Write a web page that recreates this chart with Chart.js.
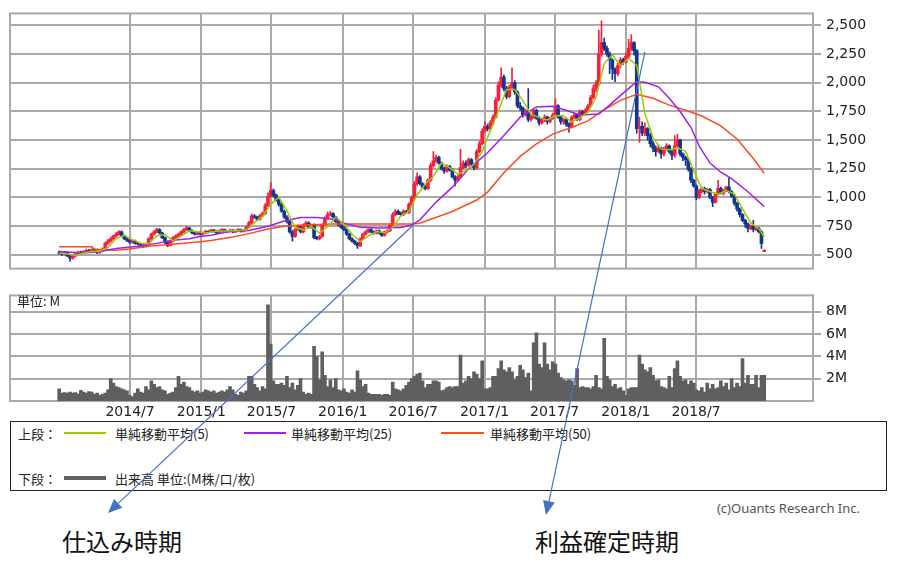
<!DOCTYPE html>
<html lang="ja">
<head>
<meta charset="utf-8">
<script src="https://cdn.jsdelivr.net/npm/chart.js@4.4.1/dist/chart.umd.min.js"></script>
<style>
  body { margin: 0; background: #fff; }
  #page { position: relative; width: 900px; height: 563px; overflow: hidden; font-family: "Noto Sans CJK JP", "Noto Sans", sans-serif; color: #222; }
  #priceChart { position: absolute; left: 0; top: 0; }
  #volumeChart { position: absolute; left: 0; top: 282px; }
  #arrows { position: absolute; left: 0; top: 0; pointer-events: none; z-index: 10; }
  .txt { position: absolute; white-space: nowrap; line-height: 1; }
  .small { font-size: 13px; }
  #legendBox { position: absolute; left: 10px; top: 421px; width: 877px; height: 70px; box-sizing: border-box; border: 1.5px solid #222; }
  .swatch { position: absolute; height: 2px; }
  .big { font-size: 24px; color: #111; }
</style>
</head>
<body>
<div id="page">
  <canvas id="priceChart" width="900" height="282"></canvas>
  <canvas id="volumeChart" width="900" height="139"></canvas>
  <div class="txt small" style="left:17px; top:294px;">単位: M</div>

  <div id="legendBox"></div>
  <div class="txt small" style="left:18px; top:427px;">上段：</div>
  <div class="swatch" style="left:64px; top:432px; width:42px; background:#99cc00;"></div>
  <div class="txt small" style="left:115px; top:427px;">単純移動平均(5)</div>
  <div class="swatch" style="left:244px; top:432px; width:42px; background:#a020f0;"></div>
  <div class="txt small" style="left:291px; top:427px;">単純移動平均(25)</div>
  <div class="swatch" style="left:441px; top:432px; width:43px; background:#ff4a1a;"></div>
  <div class="txt small" style="left:490px; top:427px;">単純移動平均(50)</div>
  <div class="txt small" style="left:18px; top:472px;">下段：</div>
  <div class="swatch" style="left:64px; top:476px; width:42px; height:4px; background:#5f5f5f;"></div>
  <div class="txt small" style="left:115px; top:472px;">出来高 単位:(M株/口/枚)</div>

  <div class="txt small" style="right:40px; top:502px; color:#555; font-family:'Noto Sans',sans-serif;">(c)Ouants Research Inc.</div>
  <div class="txt big" style="left:62px; top:529px;">仕込み時期</div>
  <div class="txt big" style="left:535px; top:529px;">利益確定時期</div>

  <canvas id="arrows" width="900" height="563"></canvas>
</div>

<script>
// weekly candles, first week starts 2013/12/30 (days counted from 2014/1/1)
const firstWeekDay = -2;

const open = [
  520,515,505,520,490,470,490,510,525,515,
  530,540,525,545,530,520,535,550,600,620,
  640,665,680,700,665,640,625,610,620,600,
  595,580,575,590,640,680,700,720,690,650,
  610,580,620,650,665,680,700,720,735,710,
  690,680,695,680,690,705,700,715,705,690,
  710,720,700,705,715,700,710,720,705,715,
  740,780,840,830,810,840,860,930,1010,1060,
  1020,980,940,880,830,790,700,660,720,750,
  700,760,780,740,760,650,640,660,760,820,
  850,860,830,790,760,740,720,680,640,620,
  600,580,640,680,700,720,700,690,710,690,
  670,700,710,760,850,880,860,850,880,870,
  940,1000,1120,1180,1120,1090,1080,1150,1280,1320,
  1350,1300,1250,1230,1270,1240,1180,1150,1180,1260,
  1300,1280,1330,1290,1260,1400,1470,1580,1620,1600,
  1650,1700,1850,1980,2050,1950,1880,1960,2000,1920,
  1800,1780,1720,1750,1680,1700,1760,1690,1650,1680,
  1700,1660,1690,1720,1800,1700,1660,1680,1640,1620,
  1700,1720,1680,1750,1730,1760,1800,1870,1950,1990,
  2250,2350,2300,2250,2200,2120,2080,2150,2200,2180,
  2230,2300,2350,2280,1600,1620,1560,1600,1540,1470,
  1430,1400,1430,1380,1420,1450,1400,1370,1450,1500,
  1380,1350,1330,1250,1150,1100,1000,1060,1080,1050,
  1070,1000,960,1030,1080,1040,1060,1090,1050,1010,
  950,900,850,800,770,730,750,720,730,700,
  530
];
const high = [
  535,522,530,528,498,495,518,532,532,538,
  550,548,555,552,538,542,560,612,635,655,
  672,695,712,710,672,650,632,630,628,610,
  602,590,598,648,690,712,732,728,698,655,
  618,628,660,675,690,710,732,748,740,718,
  698,702,702,698,715,712,725,722,712,718,
  728,725,712,725,720,718,728,725,722,750,
  792,858,852,838,850,875,950,1040,1130,1075,
  1030,990,952,890,842,798,712,728,762,758,
  770,792,788,768,770,662,670,770,832,875,
  880,868,838,798,770,748,728,690,650,628,
  608,648,690,712,730,728,708,718,718,698,
  708,720,772,868,895,892,872,892,890,955,
  1015,1140,1215,1190,1130,1105,1165,1300,1400,1370,
  1360,1310,1265,1285,1280,1250,1190,1195,1420,1320,
  1320,1345,1340,1300,1420,1490,1600,1660,1640,1670,
  1720,1870,2010,2130,2070,1970,1980,2130,2020,1930,
  1830,1790,1770,1950,1720,1775,1770,1705,1690,1720,
  1710,1700,1735,1860,1810,1715,1690,1690,1650,1710,
  1735,1730,1765,1760,1775,1810,1890,1980,2020,2460,
  2540,2390,2320,2270,2210,2130,2170,2220,2215,2260,
  2380,2420,2360,2290,1700,1660,1650,1610,1560,1490,
  1450,1460,1440,1440,1470,1460,1410,1540,1550,1510,
  1390,1360,1340,1260,1160,1110,1070,1090,1090,1080,
  1080,1010,1040,1150,1090,1070,1100,1170,1060,1020,
  960,910,860,810,780,760,800,740,740,710,
  545
];
const low = [
  505,495,498,485,445,462,482,502,508,510,
  522,518,518,522,510,512,528,545,590,610,
  632,655,672,658,632,615,600,602,592,585,
  570,565,568,582,630,672,692,682,640,598,
  572,575,612,642,655,672,692,712,702,682,
  672,672,672,672,682,692,695,698,682,684,
  702,695,692,698,692,694,702,698,698,708,
  732,772,818,800,802,832,852,920,1000,1005,
  968,925,870,818,775,688,620,652,712,690,
  692,748,730,732,638,630,630,652,752,812,
  840,822,782,750,728,710,670,630,610,588,
  555,572,632,672,692,692,680,682,680,660,
  662,692,702,752,840,850,840,842,860,862,
  930,990,1105,1110,1080,1065,1070,1140,1265,1305,
  1290,1240,1210,1220,1230,1170,1100,1140,1170,1250,
  1260,1270,1275,1240,1250,1390,1460,1570,1580,1590,
  1630,1690,1840,1960,1930,1860,1870,1950,1900,1780,
  1760,1700,1710,1660,1665,1690,1680,1630,1640,1660,
  1640,1650,1680,1710,1690,1640,1640,1620,1570,1610,
  1690,1670,1670,1715,1720,1750,1790,1860,1920,1980,
  2230,2280,2230,2080,2030,2010,2060,2130,2160,2170,
  2210,2280,2240,1560,1480,1540,1540,1500,1440,1400,
  1360,1390,1340,1360,1410,1385,1330,1350,1440,1360,
  1320,1280,1230,1130,1090,980,990,1040,1030,1040,
  990,920,950,1020,1030,1020,1050,1040,1000,930,
  880,830,790,740,700,720,700,710,690,555,
  528
];
const close = [
  515,505,520,490,470,490,510,525,515,530,
  540,525,545,530,520,535,550,600,620,640,
  665,680,700,665,640,625,610,620,600,595,
  580,575,590,640,680,700,720,690,650,610,
  580,620,650,665,680,700,720,735,710,690,
  680,695,680,690,705,700,715,705,690,710,
  720,700,705,715,700,710,720,705,715,740,
  780,840,830,810,840,860,930,1010,1060,1020,
  980,940,880,830,790,700,660,720,750,700,
  760,780,740,760,650,640,660,760,820,850,
  860,830,790,760,740,720,680,640,620,600,
  580,640,680,700,720,700,690,710,690,670,
  700,710,760,850,880,860,850,880,870,940,
  1000,1120,1180,1120,1090,1080,1150,1280,1320,1350,
  1300,1250,1230,1270,1240,1180,1150,1180,1260,1300,
  1280,1330,1290,1260,1400,1470,1580,1620,1600,1650,
  1700,1850,1980,2050,1950,1880,1960,2000,1920,1800,
  1780,1720,1750,1680,1700,1760,1690,1650,1680,1700,
  1660,1690,1720,1800,1700,1660,1680,1640,1620,1700,
  1720,1680,1750,1730,1760,1800,1870,1950,1990,2250,
  2350,2300,2250,2200,2120,2080,2150,2200,2180,2230,
  2300,2350,2280,1600,1620,1560,1600,1540,1470,1430,
  1400,1430,1380,1420,1450,1400,1370,1450,1500,1380,
  1350,1330,1250,1150,1100,1000,1060,1080,1050,1070,
  1000,960,1030,1080,1040,1060,1090,1050,1010,950,
  900,850,800,770,730,750,720,730,700,600,
  540
];
// volume, millions
const volume = [
  1.1,0.7,0.75,0.7,0.8,0.7,0.75,0.65,0.95,0.8,
  0.7,0.85,0.8,0.6,0.7,0.5,0.6,0.7,1.0,2.0,
  1.6,1.3,1.2,1.1,1.0,0.9,0.5,0.4,0.7,1.1,
  0.8,0.7,1.3,1.0,1.8,1.5,1.2,1.3,1.0,0.9,
  0.6,0.7,0.8,1.2,2.2,1.5,1.7,1.3,1.2,0.9,
  0.8,0.9,0.7,0.8,1.0,0.9,0.8,0.9,0.7,0.8,
  0.9,0.8,1.0,1.3,1.0,0.6,0.5,0.8,0.7,0.9,
  2.2,2.2,1.5,1.2,0.9,1.3,1.1,8.6,5.1,1.8,
  1.5,1.5,1.6,1.4,2.2,1.2,1.6,1.0,1.4,2.0,
  0.8,0.6,0.7,0.6,4.9,4.0,1.9,4.4,2.3,1.3,
  1.9,1.2,2.0,1.0,0.9,1.1,0.8,0.7,1.0,0.8,
  2.7,1.9,1.3,1.5,0.7,0.6,0.6,0.6,0.6,0.5,
  0.6,0.6,0.5,1.7,1.1,1.0,0.9,1.1,1.4,1.7,
  2.0,2.2,2.4,2.5,1.8,1.2,1.5,1.5,1.8,1.8,
  1.7,0.9,1.0,1.2,1.3,1.2,1.3,1.3,4.1,1.6,
  1.8,2.2,2.0,2.6,2.4,2.0,3.6,1.1,1.1,1.2,
  2.2,2.2,2.9,3.6,2.8,2.6,3.0,2.6,1.9,2.2,
  3.2,2.8,2.1,2.5,0.9,5.2,6.1,3.3,3.0,5.2,
  3.3,2.8,3.5,3.3,2.5,2.1,1.9,1.8,1.9,1.8,
  1.4,2.9,1.2,1.3,1.2,1.2,1.1,1.3,2.3,1.2,
  1.1,5.6,2.2,1.9,1.3,1.5,1.1,1.2,0.9,0.5,
  1.1,1.2,1.2,1.2,4.1,3.3,2.8,2.6,3.0,2.3,
  1.8,1.9,1.3,1.2,1.1,2.2,1.2,2.9,3.6,2.2,
  1.8,1.9,1.5,1.8,1.6,1.0,0.9,1.2,0.8,1.6,
  1.1,1.5,1.1,1.2,1.8,1.3,1.6,1.0,2.0,1.2,
  1.6,1.3,3.8,1.6,2.3,1.5,1.5,2.3,1.2,2.3,
  2.3
];

// moving averages: [week, price]
const ma5 = [
  [0,515],[3,508],[6,496],[9,514],[12,531],[15,531],[18,565],[21,641],[24,670],[27,632],
  [30,601],[33,596],[36,666],[39,674],[42,622],[45,663],[48,709],[51,702],[54,690],[57,703],
  [60,708],[63,710],[66,710],[69,718],[72,781],[75,836],[78,940],[81,1002],[84,884],[87,740],
  [90,718],[93,748],[96,690],[99,746],[102,830],[105,768],[108,680],[111,616],[114,664],[117,704],
  [120,692],[123,738],[126,840],[129,880],[132,1022],[135,1118],[138,1184],[141,1300],[144,1258],[147,1204],
  [150,1234],[153,1292],[156,1400],[159,1584],[162,1756],[165,1942],[168,1942],[171,1844],[174,1726],[177,1696],
  [180,1676],[183,1714],[186,1712],[189,1660],[192,1694],[195,1744],[198,1874],[201,2168],[204,2244],[207,2150],
  [210,2212],[213,2152],[216,1732],[219,1520],[222,1422],[225,1416],[228,1434],[231,1402],[234,1236],[237,1078],
  [240,1052],[243,1028],[246,1060],[249,1032],[252,902],[255,780],[258,726],[260,658]
];
const ma25 = [
  [0,530],[9,515],[15,530],[21,555],[29,575],[36,600],[41,625],[48,640],[52,660],[56,670],
  [64,710],[70,712],[77,750],[83,795],[89,825],[95,825],[101,810],[106,770],[111,740],[118,735],
  [126,738],[130,760],[133,805],[139,960],[145,1090],[151,1250],[158,1390],[164,1540],[170,1700],[176,1790],
  [182,1795],[187,1760],[192,1720],[199,1728],[203,1805],[208,1910],[213,2010],[216,2005],[221,1965],[225,1865],
  [229,1750],[233,1610],[236,1450],[240,1300],[244,1220],[248,1165],[254,1050],[260,920]
];
const ma50 = [
  [0,570],[12,570],[13,550],[16,545],[21,540],[26,550],[33,575],[46,600],[52,615],[56,625],
  [64,655],[70,685],[77,725],[83,750],[89,758],[101,768],[111,768],[130,768],[133,775],[145,878],
  [154,978],[158,1047],[164,1215],[170,1358],[176,1467],[182,1553],[189,1610],[195,1668],[200,1750],[207,1847],
  [213,1900],[219,1865],[225,1805],[231,1760],[237,1710],[244,1625],[250,1510],[256,1340],[260,1210]
];

const monthTicks = ["2014/7", "2015/1", "2015/7", "2016/1", "2016/7", "2017/1", "2017/7", "2018/1", "2018/7"];
const priceTicks = [500, 750, 1000, 1250, 1500, 1750, 2000, 2250, 2500];
const volumeTicks = [2, 4, 6, 8];

// arrow annotations: start at [day, price], end at page point
const arrowFrom = [[912, 760], [1510, 2270]];
const arrowTo = [[108, 513], [546, 515]];

const dayOf = (w) => firstWeekDay + 7 * w;
const tickDays = monthTicks.map((s) => {
  const [y, m] = s.split("/").map(Number);
  return (Date.UTC(y, m - 1, 1) - Date.UTC(2014, 0, 1)) / 864e5;
});
const xMin = -129, xMax = 1944;

const UP = "#f81e3c", DOWN = "#13358f", GRID = "#a9a9a9";
Chart.defaults.font.family = "'DejaVu Sans', sans-serif";
Chart.defaults.color = "#222";

const framePlugin = {
  id: "frame",
  beforeDatasetsDraw(chart) {
    const { ctx, chartArea: a } = chart;
    ctx.save();
    ctx.strokeStyle = GRID;
    ctx.lineWidth = 2;
    ctx.strokeRect(a.left, a.top, a.right - a.left, a.bottom - a.top);
    ctx.restore();
  },
};

function xAxis(showLabels) {
  return {
    type: "linear",
    min: xMin,
    max: xMax,
    offset: false,
    grid: { color: GRID, lineWidth: 2, drawTicks: false, offset: false },
    border: { display: false },
    afterBuildTicks: (s) => { s.ticks = tickDays.map((v) => ({ value: v })); },
    afterFit: (s) => { s.height = showLabels ? 20 : 0; },
    ticks: {
      display: showLabels,
      autoSkip: false,
      maxRotation: 0,
      padding: 3,
      font: { size: 14 },
      callback: (v, i) => monthTicks[i],
    },
  };
}

function yAxis(min, max, ticks, fmt) {
  return {
    type: "linear",
    position: "right",
    min: min,
    max: max,
    grid: { color: GRID, lineWidth: 2, drawTicks: true, tickLength: 8 },
    border: { display: false },
    afterBuildTicks: (s) => { s.ticks = ticks.map((v) => ({ value: v })); },
    afterFit: (s) => { s.width = 87; },
    ticks: { padding: 5, font: { size: 14 }, callback: fmt },
  };
}

const candleColor = (c) => (close[c.dataIndex] >= open[c.dataIndex] ? UP : DOWN);
const maLine = (pts, color) => ({
  type: "line",
  data: pts.map(([w, v]) => ({ x: dayOf(w), y: v })),
  borderColor: color,
  borderWidth: 1.5,
  pointRadius: 0,
  tension: 0,
  order: 0,
});

const priceChart = new Chart(document.getElementById("priceChart"), {
  type: "bar",
  data: {
    datasets: [
      maLine(ma5, "#99cc00"),
      maLine(ma25, "#a020f0"),
      maLine(ma50, "#ff4a1a"),
      {
        data: close.map((c, i) => ({ x: dayOf(i), y: [open[i], c] })),
        backgroundColor: candleColor,
        barThickness: 3,
        grouped: false,
        order: 1,
      },
      {
        data: close.map((c, i) => ({ x: dayOf(i), y: [low[i], high[i]] })),
        backgroundColor: candleColor,
        barThickness: 1,
        grouped: false,
        order: 2,
      },
    ],
  },
  options: {
    responsive: false,
    animation: false,
    layout: { padding: { left: 10, top: 12, right: 0, bottom: 6 } },
    plugins: { legend: { display: false }, tooltip: { enabled: false } },
    scales: {
      x: xAxis(false),
      y: yAxis(380, 2605, priceTicks, (v) => v.toLocaleString("en-US")),
    },
  },
  plugins: [framePlugin],
});

new Chart(document.getElementById("volumeChart"), {
  type: "bar",
  data: {
    datasets: [
      {
        data: volume.map((v, i) => ({ x: dayOf(i), y: v })),
        backgroundColor: "#5f5f5f",
        barThickness: 3,
        grouped: false,
      },
    ],
  },
  options: {
    responsive: false,
    animation: false,
    layout: { padding: { left: 10, top: 9, right: 0, bottom: 0 } },
    plugins: { legend: { display: false }, tooltip: { enabled: false } },
    scales: {
      x: xAxis(true),
      y: yAxis(0, 9.45, volumeTicks, (v) => v + "M"),
    },
  },
  plugins: [framePlugin],
});

// blue arrows from the chart down to the captions
const actx = document.getElementById("arrows").getContext("2d");
actx.strokeStyle = "#4472c4";
actx.fillStyle = "#4472c4";
actx.lineWidth = 1.2;
arrowFrom.forEach(([d, p], k) => {
  const x0 = priceChart.scales.x.getPixelForValue(d);
  const y0 = priceChart.scales.y.getPixelForValue(p);
  const [x1, y1] = arrowTo[k];
  const ang = Math.atan2(y1 - y0, x1 - x0);
  const len = 14, half = 6;
  const bx = x1 - len * Math.cos(ang), by = y1 - len * Math.sin(ang);
  actx.beginPath();
  actx.moveTo(x0, y0);
  actx.lineTo(bx, by);
  actx.stroke();
  actx.beginPath();
  actx.moveTo(x1, y1);
  actx.lineTo(bx + half * Math.sin(ang), by - half * Math.cos(ang));
  actx.lineTo(bx - half * Math.sin(ang), by + half * Math.cos(ang));
  actx.closePath();
  actx.fill();
});
</script>
</body>
</html>
